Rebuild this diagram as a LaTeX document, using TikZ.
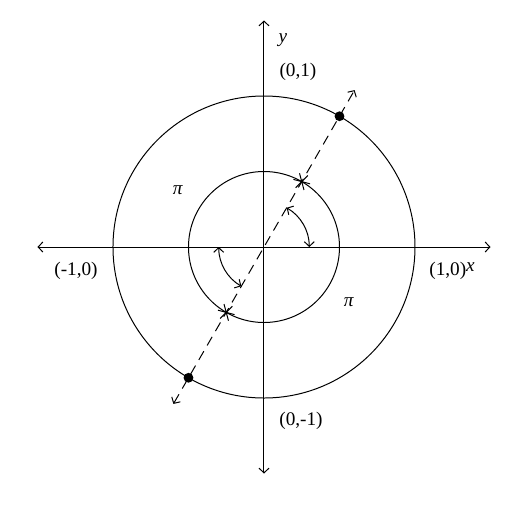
\documentclass[tikz,border=0pt]{standalone}
\usepackage{fontspec}
\setmainfont{Liberation Serif}
\usepackage{tikz}
\usetikzlibrary{calc,plotmarks,arrows.meta}
\tikzset{fig/.style={
    line width=0.75pt}}
\tikzset{axe/.style={
    {Straight Barb[length=3.5pt,width=7.5pt]}-{Straight Barb[length=3.5pt,width=7.5pt]},
    line width=0.75pt}}
\tikzset{diam/.style={
    {Straight Barb[length=3.5pt,width=7.5pt]}-{Straight Barb[length=3.5pt,width=7.5pt]},
    line width=0.75pt,
    dash pattern=on 7.5pt off 5pt}}
\tikzset{turn/.style={
    {Straight Barb[length=3.5pt,width=7.5pt]}-{Straight Barb[length=3.5pt,width=7.5pt]},
    line width=0.75pt}}
\tikzset{lbl/.style={
    font=\fontsize{14.5}{17}\selectfont}}

\begin{document}
\begin{tikzpicture}
  \useasboundingbox (-6.993,-6.993) rectangle (6.861,6.543);
  \coordinate (O) at (0,0);
\coordinate (XW) at (-6,0);
\coordinate (XE) at (6,0);
\coordinate (YS) at (0,-6);
\coordinate (YN) at (0,6);
\coordinate (D1) at (60:4.8);
\coordinate (D2) at (240:4.8);
\coordinate (P1) at (60:4);
\coordinate (P2) at (240:4);
\coordinate (Q1) at (60:2);
\coordinate (Q2) at (240:2);

\node[fig,
  circle,
  inner sep=0pt,
  minimum size=8cm,
  draw] (outer) at (O) {};

\node[fig,
  circle,
  inner sep=0pt,
  minimum size=4cm,
  draw] (inner) at (O) {};

  \draw[axe] (XW) -- (XE);
  \draw[axe] (YS) -- (YN);
  \draw[diam] (D2) -- (D1);
  \fill (P1) circle (0.13);
  \fill (P2) circle (0.13);
  \path plot[only marks, mark=asterisk, mark size=6.5pt,
    mark options={line width=0.75pt, rotate=15}] coordinates {(Q1) (Q2)};
  \draw[turn] ($(O)+(0:1.2)$) arc (0:60:1.2);
  \draw[turn] ($(O)+(180:1.2)$) arc (180:240:1.2);

  \node[lbl] (pi1) at (-2.28,1.51) {\textit{π}};
  \node[lbl] (pi2) at (2.25,-1.46) {\textit{π}};
  \node[lbl] (ylab) at (0.5,5.48) {\textit{y}};
  \node[lbl] (xlab) at (5.47,-0.52) {\textit{x}};
  \node[lbl] (n) at (0.9,4.64) {(0,1)};
  \node[lbl] (s) at (0.98,-4.61) {(0,-1)};
  \node[lbl] (w) at (-4.98,-0.64) {(-1,0)};
  \node[lbl] (e) at (4.87,-0.64) {(1,0)};
\end{tikzpicture}
\end{document}
